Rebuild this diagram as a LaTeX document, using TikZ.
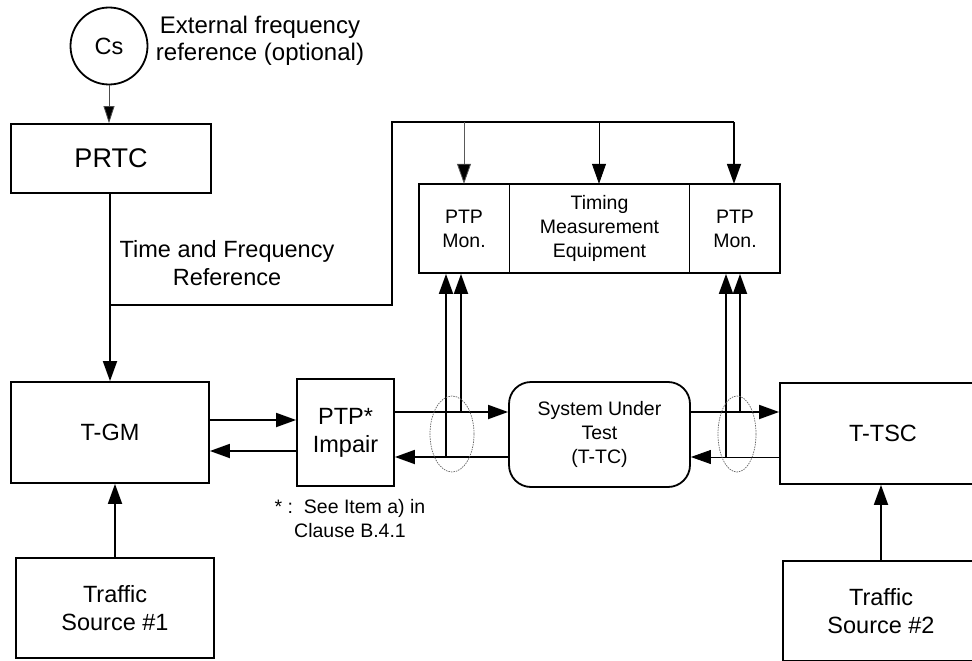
\documentclass[tikz,border=0pt]{standalone}
\usepackage{fontspec}
\setmainfont{Liberation Sans}
\usetikzlibrary{arrows.meta}
\tikzset{
  thk/.style={line width=1.8pt},
  thn/.style={line width=0.8pt},
  bigf/.style={font=\fontsize{23.5}{28}\selectfont},
  smallf/.style={font=\fontsize{19.5}{24}\selectfont},
  box/.style={draw,thk,rectangle,inner sep=0pt,align=center,bigf},
  arr/.style={-{Triangle[length=20pt,width=14pt]}},
  sarr/.style={-{Triangle[length=17pt,width=11pt,fill=black]}},
  ell/.style={draw=black!60,line width=0.7pt,dash pattern=on 1.5pt off 1pt},
}
\begin{document}
\begin{tikzpicture}[x=1pt,y=-1pt]
\useasboundingbox (0,0) rectangle (972,661);
\clip (0,0) rectangle (972,661);
% nodes
\node[draw,thk,circle,minimum size=77pt,inner sep=0pt,bigf] (cs) at (109,46) {Cs};
\node[align=center,font=\fontsize{24}{27}\selectfont] (ext) at (260,41) {External frequency\\reference (optional)};
\node[box,minimum width=200pt,minimum height=69pt,font=\fontsize{27}{30}\selectfont] (prtc) at (111,158.5) {PRTC};
\node[align=center,bigf] (tfr) at (227,263) {Time and Frequency\\Reference};
\node[box,minimum width=198pt,minimum height=101pt] (tgm) at (110,432.5) {T-GM};
\node[box,minimum width=198pt,minimum height=100pt] (ts1) at (115,608) {Traffic\\Source \#1};
\node[box,minimum width=97pt,minimum height=107pt] (imp) at (345.5,432.5) {PTP*\\Impair};
\node[align=center,smallf] (note) at (350,519) {* :\ \ See Item a) in\\Clause B.4.1};
\node[box,rounded corners=22pt,minimum width=181pt,minimum height=105pt,smallf] (sut) at (599.5,434.5) {System Under\\Test\\(T-TC)};
\node[box,minimum width=206pt,minimum height=101pt] (ttsc) at (883,433.5) {T-TSC};
\node[box,minimum width=196pt,minimum height=100pt] (ts2) at (881,611) {Traffic\\Source \#2};
% measurement equipment
\node[draw,thk,minimum width=361pt,minimum height=89pt,inner sep=0pt] (meas) at (599.5,228.5) {};
\node[minimum width=90pt,minimum height=89pt,inner sep=0pt,align=center,smallf] (mon1) at (464,228.5) {PTP\\Mon.};
\node[minimum width=181pt,minimum height=89pt,inner sep=0pt,align=center,smallf] (tme) at (599.5,228.5) {Timing\\Measurement\\Equipment};
\node[minimum width=90pt,minimum height=89pt,inner sep=0pt,align=center,smallf] (mon2) at (735,228.5) {PTP\\Mon.};
\draw[thn] (mon1.north east) -- (mon1.south east);
\draw[thn] (mon2.north west) -- (mon2.south west);
% coordinates
\coordinate (br) at (110,305);
\coordinate (c1) at (392,305);
\coordinate (c2) at (392,122);
\coordinate (c3) at (734,122);
% connectors
\draw[thn,draw=black!70,sarr] (cs.south) -- (cs.south |- prtc.north);
\draw[thk,arr] (prtc.south -| br) -- (br |- tgm.north);
\draw[thk] (br) -- (c1) -- (c2) -- (c3);
\draw[thn,draw=black!65,-{Triangle[length=20pt,width=14pt,fill=black]}] (464,122) -- (464,122 |- mon1.north);
\draw[thn,arr] (599,122) -- (599,122 |- tme.north);
\draw[thk,arr] (c3) -- (c3 |- mon2.north);
\draw[thk,arr] (tgm.east |- 0,420) -- (imp.west |- 0,420);
\draw[thk,arr] (imp.west |- 0,451) -- (tgm.east |- 0,451);
\draw[thk,arr] (imp.east |- 0,412) -- (sut.west |- 0,412);
\draw[thk,arr] (sut.west |- 0,457) -- (imp.east |- 0,457);
\draw[thk,arr] (sut.east |- 0,412) -- (ttsc.west |- 0,412);
\draw[thn,arr] (ttsc.west |- 0,457) -- (sut.east |- 0,457);
\draw[thk,arr] (446,457) -- (446,457 |- meas.south);
\draw[thk,arr] (461,412) -- (461,412 |- meas.south);
\draw[thk,arr] (726,457) -- (726,457 |- meas.south);
\draw[thk,arr] (740,412) -- (740,412 |- meas.south);
\draw[thk,arr] (ts1.north) -- (ts1.north |- tgm.south);
\draw[thk,arr] (ts2.north) -- (ts2.north |- ttsc.south);
% ellipses
\draw[ell] (452,434) ellipse [x radius=22, y radius=38];
\draw[ell] (737,434) ellipse [x radius=19, y radius=38];
\end{tikzpicture}
\end{document}
